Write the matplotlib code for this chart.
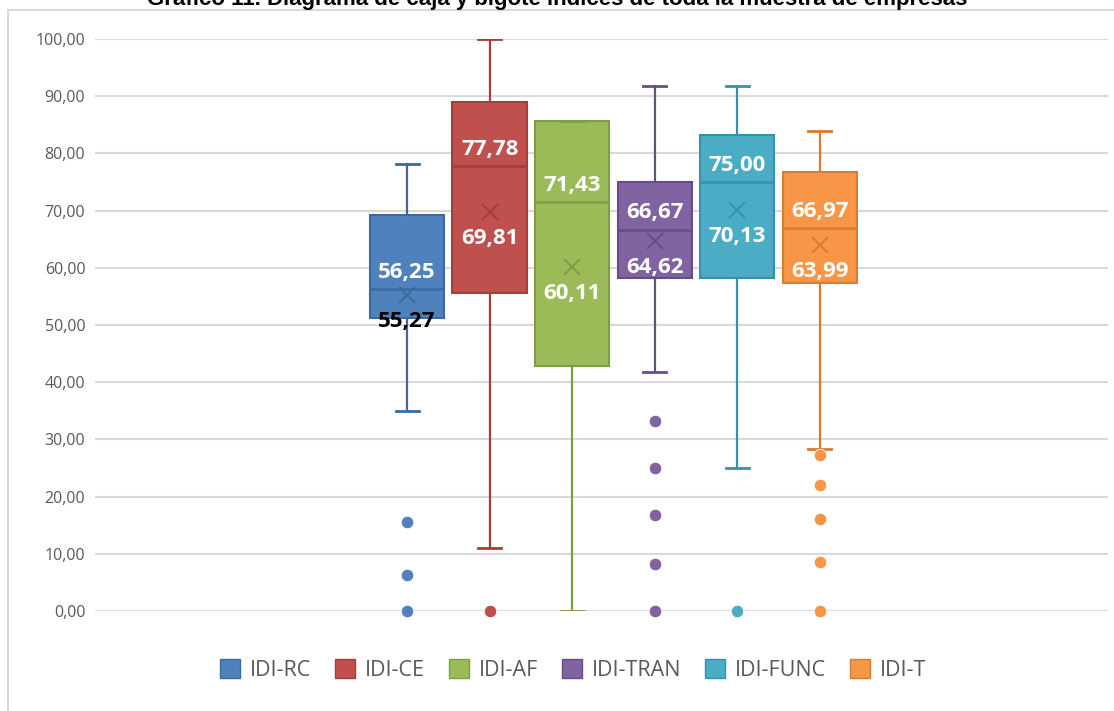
import matplotlib.pyplot as plt
from matplotlib.patches import Rectangle, Patch
from matplotlib.ticker import FuncFormatter

# Índices IDI: cinco números de cada caja, media y valores atípicos
series = ["IDI-RC", "IDI-CE", "IDI-AF", "IDI-TRAN", "IDI-FUNC", "IDI-T"]
whisker_low = [34.9, 11.1, 0.0, 41.7, 25.0, 28.4]
q1 = [51.2, 55.6, 42.9, 58.3, 58.3, 57.4]
medians = [56.25, 77.78, 71.43, 66.67, 75.00, 66.97]
q3 = [69.2, 88.9, 85.7, 75.0, 83.3, 76.8]
whisker_high = [78.1, 100.0, 85.7, 91.7, 91.7, 84.0]
means = [55.27, 69.81, 60.11, 64.62, 70.13, 63.99]
outliers = [
    [15.6, 6.25, 0.0],
    [0.0],
    [],
    [33.3, 25.0, 16.7, 8.3, 0.0],
    [0.0],
    [27.3, 22.0, 16.1, 8.5, 0.0],
]

fill_colors = ["#4F81BD", "#C0504D", "#9BBB59", "#8064A2", "#4BACC6", "#F79646"]
edge_colors = ["#3A6A9E", "#A43E3B", "#7F9D44", "#664D87", "#3592AA", "#D97B30"]
mean_label_colors = ["black", "white", "white", "white", "white", "white"]

fig = plt.figure(figsize=(11.14, 7.11), dpi=100)
ax = fig.add_axes([95 / 1114, 100 / 711, 1013 / 1114, 572 / 711])

# marco del gráfico
fig.add_artist(Rectangle((8 / 1114, -0.05), 1.1, 1 - 10 / 711 + 0.05,
                         transform=fig.transFigure, fill=False,
                         edgecolor="#D9D9D9", linewidth=1.5))

fig.text(0.5, 1 - 5 / 711,
         "Gráfico 11. Diagrama de caja y bigote índices de toda la muestra de empresas",
         ha="center", va="baseline", fontsize=16, fontweight="bold",
         family="Liberation Sans", color="black")

positions = list(range(len(series)))
stats = []
for i in positions:
    stats.append({
        "label": series[i],
        "whislo": whisker_low[i], "q1": q1[i], "med": medians[i],
        "q3": q3[i], "whishi": whisker_high[i], "mean": means[i],
        "fliers": outliers[i],
    })

for i, st in enumerate(stats):
    ec = edge_colors[i]
    ax.bxp([st], positions=[i], widths=0.9, patch_artist=True,
           showmeans=True, showfliers=True,
           boxprops=dict(facecolor=fill_colors[i], edgecolor=ec, linewidth=1.5),
           medianprops=dict(color=ec, linewidth=1.8),
           whiskerprops=dict(color=ec, linewidth=1.6),
           capprops=dict(color=ec, linewidth=2),
           capwidths=0.28,
           meanprops=dict(marker="x", markeredgecolor=ec, markersize=12,
                          markeredgewidth=1.4),
           flierprops=dict(marker="o", markerfacecolor=fill_colors[i],
                           markeredgecolor="#FFFFFF", markeredgewidth=0.6,
                           markersize=9, clip_on=False))

    ax.annotate(f"{medians[i]:.2f}".replace(".", ","), (i, medians[i]),
                xytext=(0, 12), textcoords="offset points",
                ha="center", va="center", fontsize=16, fontweight="bold",
                color="white", family="Open Sans")
    ax.annotate(f"{means[i]:.2f}".replace(".", ","), (i, means[i]),
                xytext=(0, -19), textcoords="offset points",
                ha="center", va="center", fontsize=16, fontweight="bold",
                color=mean_label_colors[i], family="Open Sans")

ax.set_xlim(-3.78, 8.49)
ax.set_ylim(0, 100)
ax.set_yticks(range(0, 101, 10))
ax.yaxis.set_major_formatter(FuncFormatter(lambda v, p: f"{v:.2f}".replace(".", ",")))
ax.tick_params(axis="y", length=0, pad=7, labelsize=11.5, labelcolor="#595959")
ax.set_xticks([])
for lbl in ax.get_yticklabels():
    lbl.set_family("Open Sans")
ax.grid(axis="y", color="#D9D9D9", linewidth=1.5)
ax.set_axisbelow(True)
for s in ax.spines.values():
    s.set_visible(False)

handles = [Patch(facecolor=fill_colors[i], edgecolor=edge_colors[i], label=series[i])
           for i in positions]
fig.legend(handles=handles, loc="center", bbox_to_anchor=(573 / 1114, 1 - 670 / 711),
           ncol=6, frameon=False, handlelength=0.95, handleheight=1.0,
           handletextpad=0.45, columnspacing=1.1,
           prop={"family": "Open Sans", "size": 15.5}, labelcolor="#595959")

fig.savefig("out.png", dpi=100)
